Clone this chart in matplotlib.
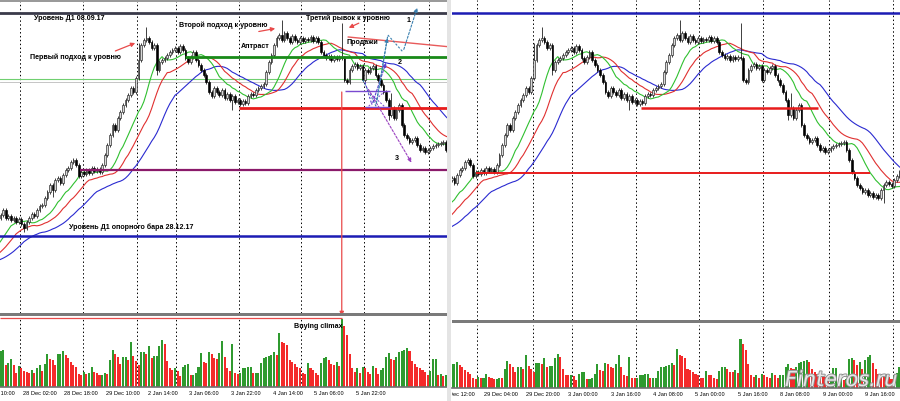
import numpy as np
import pandas as pd
import matplotlib
matplotlib.use("Agg")
import matplotlib.pyplot as plt
import matplotlib.patheffects as pe
from matplotlib.patches import Rectangle, ConnectionPatch
from matplotlib.transforms import Bbox, TransformedBbox, blended_transform_factory

# EURUSD H1, prices in pips (12092 -> 1.2092)
# a few bars before the visible window, only used to start the Alligator lines
warmup_close = [11843, 11847, 11850, 11855, 11857, 11861, 11865, 11869, 11873, 11877, 11883, 11887]

close = [
    11890, 11895, 11887, 11889, 11885, 11887, 11883, 11886, 11881, 11877,
    11883, 11887, 11891, 11889, 11895, 11899, 11900, 11907, 11913, 11920,
    11915, 11925, 11927, 11922, 11930, 11935, 11937, 11943, 11945, 11940,
    11929, 11933, 11931, 11935, 11932, 11937, 11934, 11936, 11933, 11940,
    11950, 11960, 11970, 11980, 11975, 11987, 11993, 12000, 12005, 12010,
    12017, 12013, 12027, 12045, 12060, 12065, 12067, 12063, 12057, 12060,
    12035, 12043, 12045, 12047, 12050, 12053, 12055, 12057, 12053, 12059,
    12055, 12047, 12043, 12048, 12053, 12045, 12040, 12035, 12030, 12023,
    12013, 12009, 12017, 12013, 12010, 12015, 12007, 12011, 12005, 12009,
    12003, 12005, 12001, 12004, 12002, 12009, 12011, 12010, 12015, 12017,
    12019, 12021, 12033, 12043, 12050, 12060, 12067, 12070, 12065, 12072,
    12067, 12063, 12069, 12065, 12063, 12067, 12064, 12066, 12065, 12068,
    12064, 12067, 12063, 12053, 12050, 12047, 12049, 12045, 12048, 12046,
    12048, 12047, 12025, 12023, 12035, 12039, 12041, 12037, 12039, 12025,
    12035, 12033, 12037, 12039, 12030, 12025, 12020, 12013, 12005, 11990,
    11997, 11987, 11995, 12000, 11980, 11970, 11967, 11963, 11965, 11967,
    11960, 11955, 11957, 11953, 11955, 11957, 11959, 11960, 11961, 11962,
    11963, 11955, 11945, 11933, 11927, 11920, 11917, 11913, 11915, 11910,
    11912, 11908, 11910, 11907, 11915, 11920, 11923, 11921, 11919, 11925,
    11929, 11933,
]

# notable wicks (bar index -> price)
wick_high = {53: 12062, 56: 12078, 108: 12085, 131: 12082, 150: 12012}
wick_low = {9: 11873, 20: 11908, 60: 12030, 89: 11995, 149: 11985, 185: 11902}

# tick volume, hundreds
volume = [
    35, 36, 21, 23, 27, 21, 14, 20, 18, 16, 15,
    14, 17, 14, 18, 21, 16, 22, 32, 27, 26,
    21, 32, 32, 35, 31, 28, 24, 21, 19, 13,
    12, 15, 13, 14, 19, 15, 14, 12, 12, 14, 13,
    26, 36, 32, 29, 22, 29, 29, 26, 44, 30,
    25, 21, 34, 34, 32, 40, 28, 30, 30, 40,
    46, 42, 25, 18, 17, 18, 16, 11, 19, 21,
    22,
    12, 12, 14, 19, 33, 24, 23, 34, 32, 28,
    27, 33, 45, 29, 18, 16, 42, 14, 13, 14,
    18, 18, 19, 19, 14, 14, 14, 23, 28, 29,
    30, 31, 34, 31, 52, 44, 43, 41, 26, 24,
    22, 19, 18, 14, 13, 23, 18, 17, 14, 12,
    23, 28, 29, 26, 22, 21, 24, 20, 66, 59,
    51, 32, 18, 15, 18, 14, 19,
    18, 15, 13, 20, 18, 13, 17, 18, 29, 33,
    27, 26, 29, 34, 35, 36, 38, 35, 25, 22,
    19, 18, 17, 15, 12, 16, 27, 27, 12, 13,
    11, 12, 39, 40, 38, 31, 35, 25, 38, 42,
    45, 34, 25, 19, 18, 16, 17, 15, 12, 16,
    20, 28,
]

# day separators and time labels (bar index)
day_separators = [7.5, 31.5, 52.5, 67.5, 91.5, 115.5, 139.5, 164.5, 188.5]
left_tick_pos = [-7.5, 8.5, 24.5, 40.5, 56.5, 72.5, 88.5, 104.5, 120.5, 136.5]
left_tick_lbl = ["27 Dec 10:00", "28 Dec 02:00", "28 Dec 18:00", "29 Dec 10:00", "2 Jan 14:00",
                 "3 Jan 06:00", "3 Jan 22:00", "4 Jan 14:00", "5 Jan 06:00", "5 Jan 22:00"]
right_tick_pos = [18, 34, 50, 66, 82, 98, 114, 130, 146, 162, 178]
right_tick_lbl = ["28 Dec 12:00", "29 Dec 04:00", "29 Dec 20:00", "3 Jan 00:00", "3 Jan 16:00",
                  "4 Jan 08:00", "5 Jan 00:00", "5 Jan 16:00", "8 Jan 08:00", "9 Jan 00:00", "9 Jan 16:00"]

# horizontal levels
level_d1_0809 = 12092
level_d1_2812 = 11869
level_green = 12048
level_thin_green = 12026
level_thin_gray = 12023
level_red_high = 11997
level_purple = 11935
level_red_low = 11932

# ---------------------------------------------------------------
W_PX, H_PX = 900, 401
fig = plt.figure(figsize=(9, 4.01), dpi=100)
fig.patch.set_facecolor("white")
plt.rcParams["font.family"] = ["DejaVu Sans"]


def box(x0, y0, x1, y1):
    # pixel box measured from the top-left corner -> figure rect
    return [x0 / W_PX, 1 - y1 / H_PX, (x1 - x0) / W_PX, (y1 - y0) / H_PX]


ax_lp = fig.add_axes(box(0, 0, 447, 313))
ax_lv = fig.add_axes(box(0, 317, 447, 387))
ax_rp = fig.add_axes(box(452, 0, 900, 320))
ax_rv = fig.add_axes(box(452, 325, 900, 388))

n = len(close)
t = np.arange(n)
full = np.array(warmup_close + close, dtype=float)
w = len(warmup_close)
opens = full[w - 1:-1]
closes = np.array(close, dtype=float)
body_top = np.maximum(opens, closes)
body_bot = np.minimum(opens, closes)
highs = body_top + 2
lows = body_bot - 2
for i, v in wick_high.items():
    highs[i] = max(highs[i], v)
for i, v in wick_low.items():
    lows[i] = min(lows[i], v)

# Bill Williams Alligator (SMMA 13/8/5 shifted 8/5/3)
s = pd.Series(full)
x_full = np.arange(len(full)) - w
jaw = s.ewm(alpha=1 / 13, adjust=False).mean()
teeth = s.ewm(alpha=1 / 8, adjust=False).mean()
lips = s.ewm(alpha=1 / 5, adjust=False).mean()

vol = np.array(volume, dtype=float)
vol_up = np.r_[True, vol[1:] >= vol[:-1]]
vol_colors = np.where(vol_up, "#2f9a2f", "#f42a2a")

sep_style = dict(color="black", lw=0.7, ls=(0, (1.5, 2.5)))

for ax in (ax_lp, ax_rp):
    for x in day_separators:
        ax.axvline(x, zorder=1, **sep_style)
    ax.plot(x_full + 8, jaw, color="#2a2ad0", lw=0.8, zorder=2)
    ax.plot(x_full + 5, teeth, color="#e03030", lw=0.8, zorder=2)
    ax.plot(x_full + 3, lips, color="#30c030", lw=0.8, zorder=2)
    ax.vlines(t, lows, highs, color="#202020", lw=0.6, zorder=3)
    heights = np.maximum(body_top - body_bot, 0.8)
    bull = closes >= opens
    ax.bar(t[bull], heights[bull], bottom=body_bot[bull], width=0.66,
           color="#d8d8d8", edgecolor="#202020", linewidth=0.45, zorder=4)
    ax.bar(t[~bull], heights[~bull], bottom=body_bot[~bull], width=0.66,
           color="black", edgecolor="black", linewidth=0.45, zorder=4)

for ax in (ax_lv, ax_rv):
    for x in day_separators:
        ax.axvline(x, zorder=1, **sep_style)
    ax.bar(t, vol, width=0.78, color=vol_colors, zorder=2)

ax_lp.set_xlim(-0.2, 171.4)
ax_lv.set_xlim(-0.2, 171.4)
ax_rp.set_xlim(22.1, 191.2)
ax_rv.set_xlim(22.1, 191.2)
ax_lp.set_ylim(11792, 12105)
ax_rp.set_ylim(11785, 12105)
ax_lv.set_ylim(0, 68)
ax_rv.set_ylim(0, 85)

for ax in (ax_lp, ax_lv, ax_rp, ax_rv):
    ax.set_xticks([])
    ax.set_yticks([])
    for sp in ax.spines.values():
        sp.set_visible(False)
for ax in (ax_lv, ax_rv):
    ax.spines["bottom"].set_visible(True)
    ax.spines["bottom"].set_color("#707070")
    ax.spines["bottom"].set_linewidth(1.2)

# ---- left panel levels and notes
ax_lp.axhline(level_d1_0809, color="#3a3a4a", lw=2.0, zorder=5)
ax_lp.axhline(level_d1_2812, color="#1c1cb4", lw=1.8, zorder=5)
ax_lp.axhline(level_thin_green, color="#70d070", lw=0.8, zorder=1)
ax_lp.axhline(level_thin_gray, color="#bbbbbb", lw=0.6, zorder=1)
ax_lp.hlines(level_green, 70.8, 171.4, color="#188a18", lw=2.0, zorder=5)
ax_lp.hlines(level_red_high, 91.5, 171.4, color="#e81c1c", lw=2.0, zorder=5)
ax_lp.hlines(level_purple, 30.5, 171.4, color="#8a1a6a", lw=1.6, zorder=5)

note = dict(fontsize=5.1, fontweight="bold", family=["Liberation Sans", "DejaVu Sans"],
            color="black", va="center", ha="left", zorder=8)
ax_lp.text(12.7, 12086, "Уровень Д1 08.09.17", **note)
ax_lp.text(11.5, 12048, "Первый подход к уровню", **note)
ax_lp.text(68.5, 12080, "Второй подход к уровню", **note)
ax_lp.text(92.3, 12059, "Аптраст", **note)
ax_lp.text(117.3, 12087, "Третий рывок к уровню", **note)
ax_lp.text(132.7, 12063, "Продажи", **note)
ax_lp.text(26.2, 11878, "Уровень Д1 опорного бара 28.12.17", **note)
ax_lp.text(155.8, 12084, "1", **note)
ax_lp.text(152.3, 12042, "2", **note)
ax_lp.text(151.2, 11947, "3", **note)
ax_lv.text(112.7, 58.5, "Buying climax", **note)

red_arrow = dict(arrowstyle="-|>", color="#e84a4a", lw=0.9, mutation_scale=6)
ax_lp.annotate("", xy=(52.7, 12063), xytext=(43.1, 12053), arrowprops=red_arrow, zorder=8)
ax_lp.annotate("", xy=(106.5, 12077), xytext=(98.1, 12073), arrowprops=red_arrow, zorder=8)
ax_lp.annotate("", xy=(132.7, 12076), xytext=(138.5, 12083), arrowprops=red_arrow, zorder=8)
ax_lp.plot([133.5, 173], [12068, 12058], color="#e85a5a", lw=1.0, zorder=6)

# projected paths
path1 = ([139.1, 144.1, 148.7, 154.5, 160.3], [12025, 11999, 12070, 12053, 12100])
path2 = ([139.9, 142.6, 148.3], [12023, 12000, 12045])
path3 = ([140.7, 158.3], [12018, 11940])
dash_arrow = dict(arrowstyle="-|>", lw=0.8, ls=(0, (2, 1.5)), mutation_scale=6)
for (px, py), col in ((path1, "#3a80b0"), (path2, "#5a40d0"), (path3, "#9a40c0")):
    ax_lp.plot(px[:-1], py[:-1], color=col, lw=0.8, ls=(0, (2, 1.5)), zorder=7)
    ax_lp.annotate("", xy=(px[-1], py[-1]), xytext=(px[-2], py[-2]),
                   arrowprops=dict(color=col, **dash_arrow), zorder=7)
ax_lp.annotate("", xy=(148.7, 12070), xytext=(144.1, 11999),
               arrowprops=dict(color="#3a80b0", **dash_arrow), zorder=7)
ax_lp.hlines(12014, 132.2, 149.5, color="#7a4ad0", lw=1.0, zorder=6)
ax_lp.hlines(11998, 140, 149.5, color="#7a4ad0", lw=1.0, zorder=6)
ax_lp.plot([141, 147.6], [12014, 11998], color="#7a4ad0", lw=0.7, ls=(0, (2, 1.5)), zorder=6)
ax_lp.plot([147.6, 141], [12014, 11998], color="#7a4ad0", lw=0.7, ls=(0, (2, 1.5)), zorder=6)

# buying climax marker
ax_lv.hlines(67, -0.2, 131, color="#e84a4a", lw=0.9, zorder=5)
con = ConnectionPatch(xyA=(131, 12013), coordsA=ax_lp.transData,
                      xyB=(131, 69), coordsB=ax_lv.transData,
                      arrowstyle="-|>", color="#e84a4a", lw=0.9, mutation_scale=6)
fig.add_artist(con)

# ---- right panel levels
ax_rp.axhline(level_d1_0809, color="#1c1cb4", lw=1.8, zorder=5)
ax_rp.hlines(level_red_high, 93.4, 160.3, color="#e81c1c", lw=1.8, zorder=5)
ax_rp.hlines(level_red_low, 31.1, 179.9, color="#e81c1c", lw=1.4, zorder=5)

# ---- time labels
tick_font = dict(fontsize=4.1, color="black", ha="left", va="center",
                 family=["Liberation Sans", "DejaVu Sans"])
tr_l = blended_transform_factory(ax_lv.transData, ax_lv.transAxes)
for x, lbl in zip(left_tick_pos, left_tick_lbl):
    ax_lv.text(x, -0.09, lbl, transform=tr_l, clip_on=False, **tick_font)
tr_r = blended_transform_factory(ax_rv.transData, ax_rv.transAxes)
clip = TransformedBbox(Bbox([[452 / W_PX, 0], [1, 1]]), fig.transFigure)
for x, lbl in zip(right_tick_pos, right_tick_lbl):
    txt = ax_rv.text(x, -0.1, lbl, transform=tr_r, **tick_font)
    txt.set_clip_box(clip)
    txt.set_clip_on(True)

# ---- window frames
frame = dict(transform=fig.transFigure, zorder=10, lw=0)
fig.patches.append(Rectangle((0, 1 - 316 / H_PX), 447 / W_PX, 3 / H_PX, color="#7a7a7a", **frame))
fig.patches.append(Rectangle((452 / W_PX, 1 - 323 / H_PX), 448 / W_PX, 3 / H_PX, color="#7a7a7a", **frame))
fig.patches.append(Rectangle((0, 1 - 2 / H_PX), 447 / W_PX, 2 / H_PX, color="#9a9a9a", **frame))
fig.patches.append(Rectangle((447 / W_PX, 0), 4 / W_PX, 1, color="#e4e4e4", **frame))

fig.text(785 / W_PX, 1 - 380 / H_PX, "Finteros.ru", fontsize=15, style="italic",
         color="#e6e6e6", va="center", ha="left", zorder=11,
         path_effects=[pe.withStroke(linewidth=1.3, foreground="#8c8c8c")])

plt.savefig("out.png", dpi=100)
